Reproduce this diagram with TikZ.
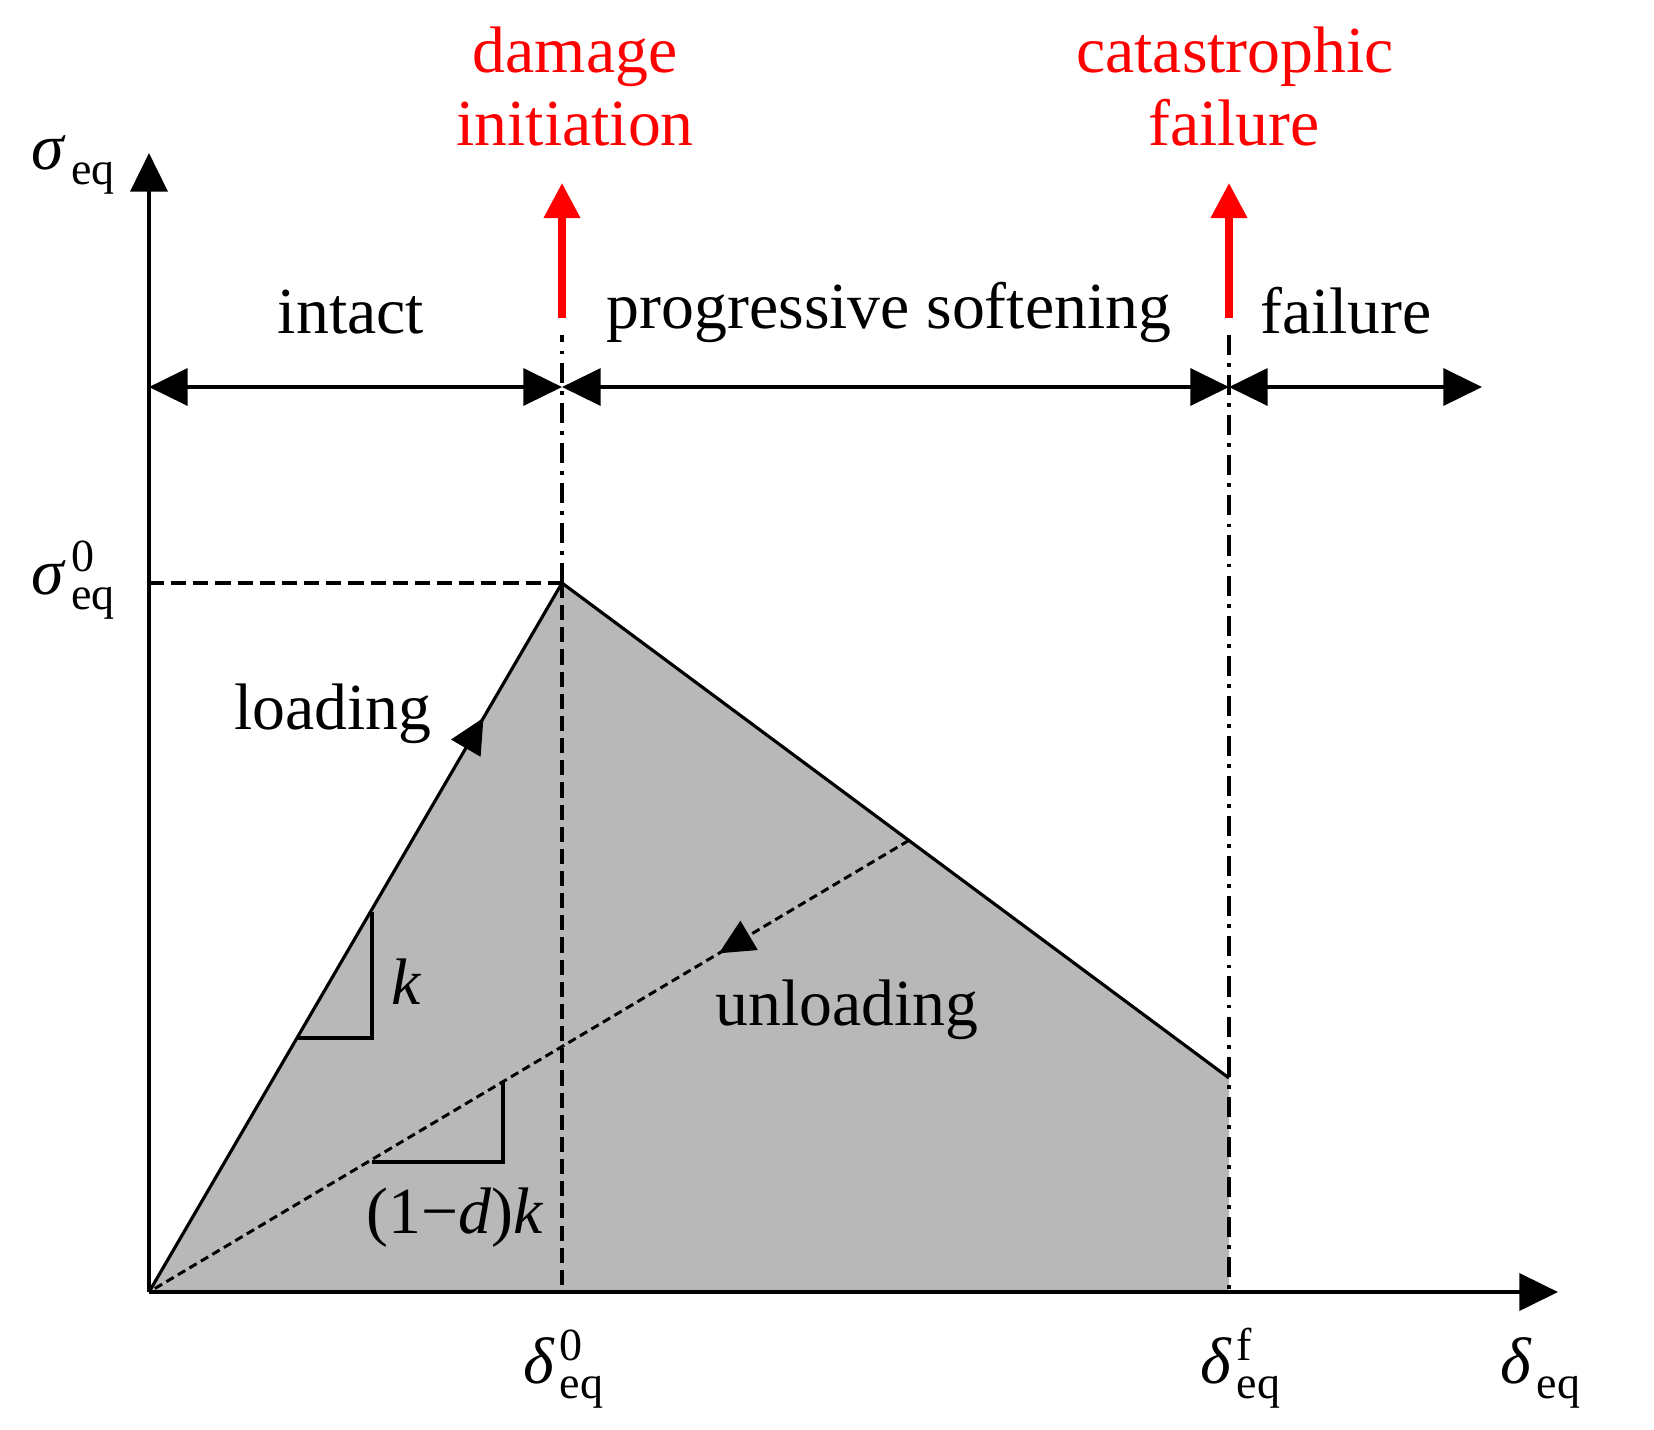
\documentclass[tikz,border=0pt]{standalone}
\usepackage{amsmath}
\usepackage{fontspec}
\setmainfont{Liberation Serif}
\usetikzlibrary{arrows.meta,decorations.markings,calc}
\definecolor{softgray}{RGB}{184,184,184}
\definecolor{alarm}{RGB}{255,0,0}
\def\EQ#1{\kern1.5pt$^{\text{#1}}_{\text{eq}}$}
\def\TIP{Triangle[length=11pt,width=10.5pt]}
\tikzset{
  lbl/.style={font=\fontsize{18.7}{22}\selectfont, inner sep=0pt, anchor=base},
  axis/.style={line width=1.2pt, -{\TIP}},
  span/.style={line width=1.1pt, {\TIP}-{\TIP}},
  dashdot/.style={line width=0.9pt, dash pattern=on 5.7pt off 2.3pt on 1.1pt off 2.3pt},
  guide/.style={line width=0.95pt, dash pattern=on 4.3pt off 2pt},
  event/.style={alarm, line width=2pt, -{Triangle[length=10pt,width=10pt]}},
  midarrow/.style={postaction={decorate}, decoration={markings,
    mark=at position #1 with {\arrow{Triangle[length=10pt,width=9.5pt]}}}}
}

\begin{document}
\begin{tikzpicture}[x=0.01cm,y=-0.01cm]
  \useasboundingbox (0,0) rectangle (1654,1429);
  % key points of the curve
  \coordinate (O) at (149,1292);
  \coordinate (P) at (562,583);
  \coordinate (F) at (1229,1078);
  \coordinate (Fa) at (1229,1292);
  \coordinate (U) at ($(P)!0.52!(F)$);
  \fill[softgray] (O) -- (P) -- (F) -- (Fa) -- cycle;
  % axes
  \coordinate (Ytip) at (149,153);
  \coordinate (Xtip) at (1558,1292);
  \draw[axis] (O) -- (Ytip);
  \draw[axis] (O) -- (Xtip);
  % guides
  \coordinate (S0) at (149,583);
  \coordinate (Ptop) at (562,335);
  \coordinate (Pbot) at (562,1292);
  \coordinate (Ftop) at (1229,335);
  \draw[guide] (S0) -- (P);
  \draw[guide] (P) -- (Pbot);
  \draw[dashdot] (P) -- (Ptop);
  \draw[dashdot] (Ftop) -- (Fa);
  % loading and softening
  \draw[line width=0.9pt, midarrow=0.81] (O) -- (P);
  \draw[line width=0.9pt] (P) -- (F);
  \draw[line width=0.85pt, dash pattern=on 2.4pt off 1.4pt, midarrow=0.25] (U) -- (O);
  % slope triangles
  \draw[line width=0.9pt] (297,1038) -- (372,1038) -- (372,912);
  \draw[line width=0.9pt] (372,1162) -- (503,1162) -- (503,1082);
  % stages
  \coordinate (A0) at (149,387);
  \coordinate (A1) at (562,387);
  \coordinate (A2) at (1229,387);
  \coordinate (A3) at (1482,387);
  \draw[span] (A0) -- (A1);
  \draw[span] (A1) -- (A2);
  \draw[span] (A2) -- (A3);
  \coordinate (R1) at (562,318);
  \coordinate (R1t) at (562,183);
  \coordinate (R2) at (1229,318);
  \coordinate (R2t) at (1229,183);
  \draw[event] (R1) -- (R1t);
  \draw[event] (R2) -- (R2t);
  % texts
  \node[lbl] (intact) at (351,333) {intact};
  \node[lbl] (soft) at (889,328) {progressive softening};
  \node[lbl] (fail) at (1346,333) {failure};
  \node[lbl,alarm] (dam) at (575,72) {damage};
  \node[lbl,alarm] (ini) at (575,145) {initiation};
  \node[lbl,alarm] (cat) at (1235,72) {catastrophic};
  \node[lbl,alarm] (cfail) at (1234,145) {failure};
  \node[lbl] (load) at (333,729) {loading};
  \node[lbl] (unload) at (847,1025) {unloading};
  \node[lbl] (k) at (407,1004) {\textit{k}};
  \node[lbl] (dk) at (455,1233) {(1−\textit{d})\textit{k}};
  \node[lbl] (seq) at (74,169) {\textit{σ}\EQ{}};
  \node[lbl] (s0) at (74,594) {\textit{σ}\EQ{0}};
  \node[lbl] (d0) at (564,1383) {\textit{δ}\EQ{0}};
  \node[lbl] (df) at (1241,1383) {\textit{δ}\EQ{f}};
  \node[lbl] (deq) at (1541,1383) {\textit{δ}\EQ{}};
\end{tikzpicture}
\end{document}
